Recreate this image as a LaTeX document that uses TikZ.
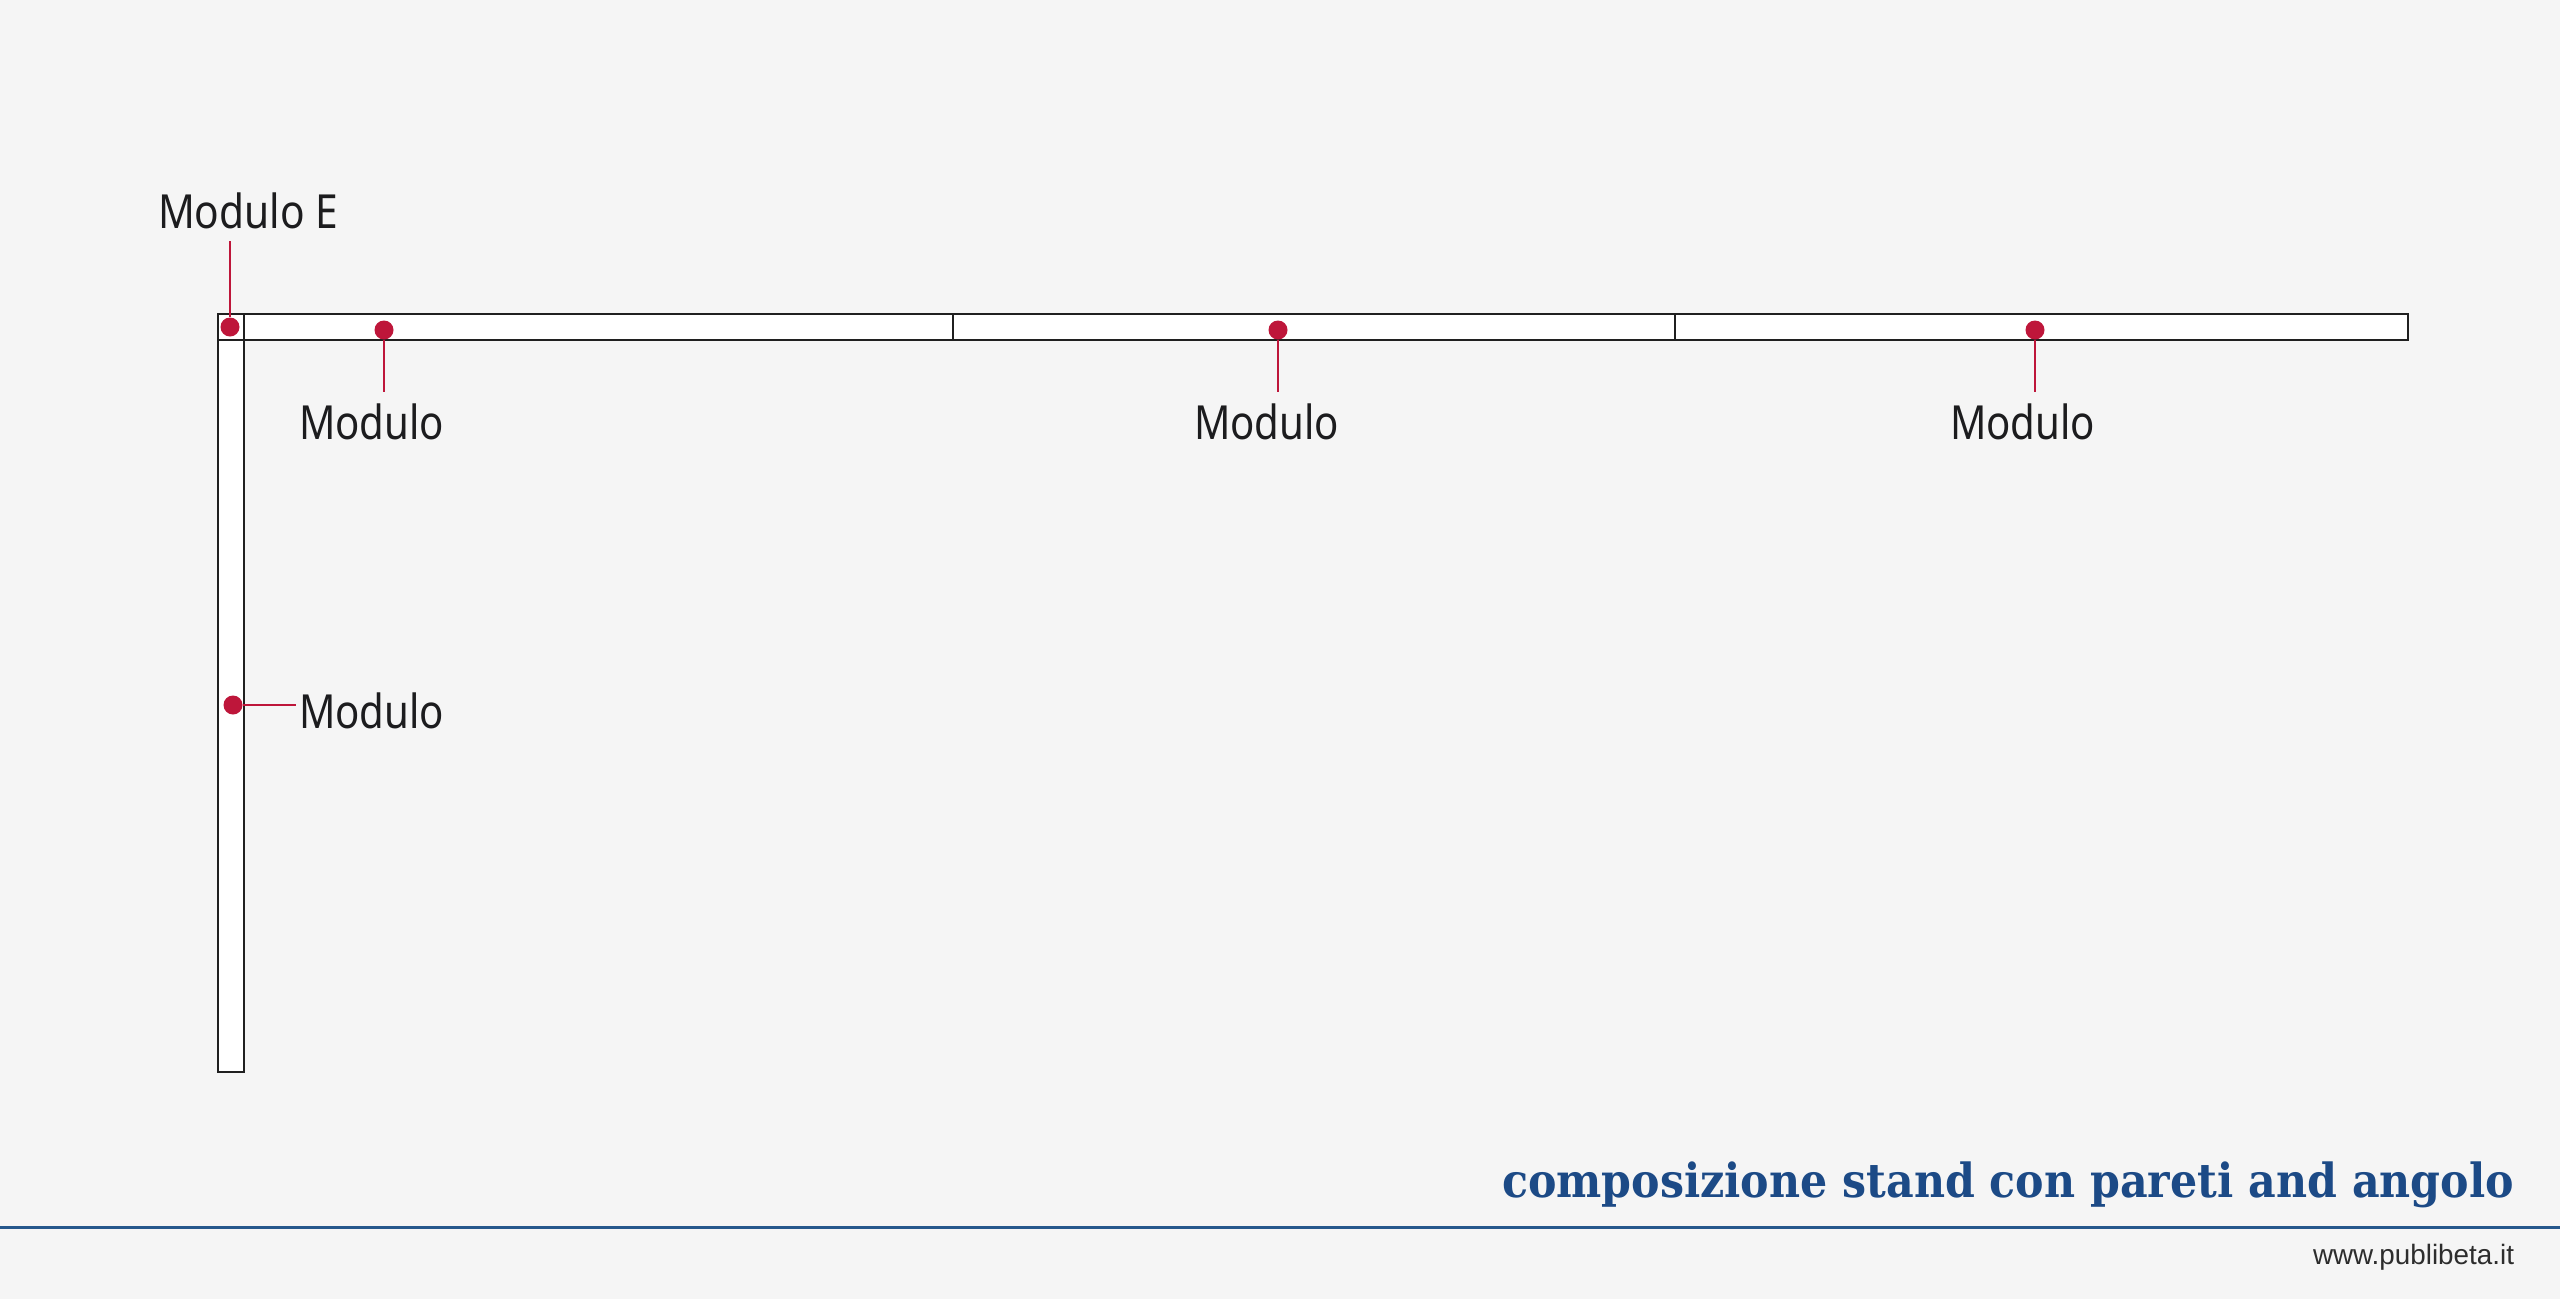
\documentclass[tikz,border=0pt]{standalone}
\usepackage{fontspec}
\usepackage{graphicx}
\newfontfamily\labfont{Noto Sans}
\newfontfamily\titfont{DejaVu Serif}
\newfontfamily\webfont{Liberation Sans}
\definecolor{bgc}{RGB}{245,245,245}
\definecolor{barc}{RGB}{32,32,32}
\definecolor{dotc}{RGB}{190,22,58}
\definecolor{titc}{RGB}{28,74,134}
\definecolor{rulec}{RGB}{38,88,140}
\definecolor{txtc}{RGB}{28,28,30}
\definecolor{webc}{RGB}{45,45,45}
\newcommand\hfit[2]{\resizebox{#1}{\height}{#2}}
\tikzset{
  wall/.style={draw=barc, line width=2.8pt, fill=white},
  divider/.style={draw=barc, line width=2.8pt},
  dotnode/.style={circle, fill=dotc, inner sep=0pt, minimum size=19pt},
  lead/.style={draw=dotc, line width=2.2pt},
  lab/.style={inner sep=0pt, outer sep=0pt, text=txtc, font=\labfont\fontsize{47}{47}\selectfont},
  title/.style={inner sep=0pt, outer sep=0pt, text=titc, font=\titfont\bfseries\fontsize{47}{47}\selectfont},
  web/.style={inner sep=0pt, outer sep=0pt, text=webc, font=\webfont\fontsize{28}{28}\selectfont},
}
\begin{document}
\begin{tikzpicture}[x=1pt, y=-1pt]
\useasboundingbox (0,0) rectangle (2560,1299);
\fill[bgc] (0,0) rectangle (2560,1299);
% walls
\draw[wall] (218,340) rectangle (244,1072);
\draw[wall] (218,314) rectangle (2408,340);
\draw[divider] (244,314) -- (244,340);
\draw[divider] (953,314) -- (953,340);
\draw[divider] (1675,314) -- (1675,340);
% dots
\node[dotnode] (dE) at (230,327) {};
\node[dotnode] (d1) at (384,330) {};
\node[dotnode] (d2) at (1278,330) {};
\node[dotnode] (d3) at (2035,330) {};
\node[dotnode] (d4) at (233,705) {};
% leader ends
\coordinate (eE) at (230,241);
\coordinate (e1) at (384,392);
\coordinate (e2) at (1278,392);
\coordinate (e3) at (2035,392);
\coordinate (e4) at (296,705);
\draw[lead] (dE) -- (eE);
\draw[lead] (d1) -- (e1);
\draw[lead] (d2) -- (e2);
\draw[lead] (d3) -- (e3);
\draw[lead] (d4) -- (e4);
% labels
\node[lab, anchor=base west] (lE) at (158,228) {\hfit{180pt}{Modulo E}};
\node[lab, anchor=base west] (l1) at (299,439) {\hfit{145pt}{Modulo}};
\node[lab, anchor=base west] (l2) at (1194,439) {\hfit{145pt}{Modulo}};
\node[lab, anchor=base west] (l3) at (1950,439) {\hfit{145pt}{Modulo}};
\node[lab, anchor=base west] (l4) at (299,728) {\hfit{145pt}{Modulo}};
% footer
\node[title, anchor=base west] (tit) at (1502,1197) {\hfit{1012pt}{composizione stand con pareti and angolo}};
\coordinate (rl) at (0,1227);
\coordinate (rr) at (2560,1227);
\draw[draw=rulec, line width=3pt] (rl) -- (rr);
\node[web, anchor=base east] (www) at (2514,1264) {\hfit{201pt}{www.publibeta.it}};
\end{tikzpicture}
\end{document}
